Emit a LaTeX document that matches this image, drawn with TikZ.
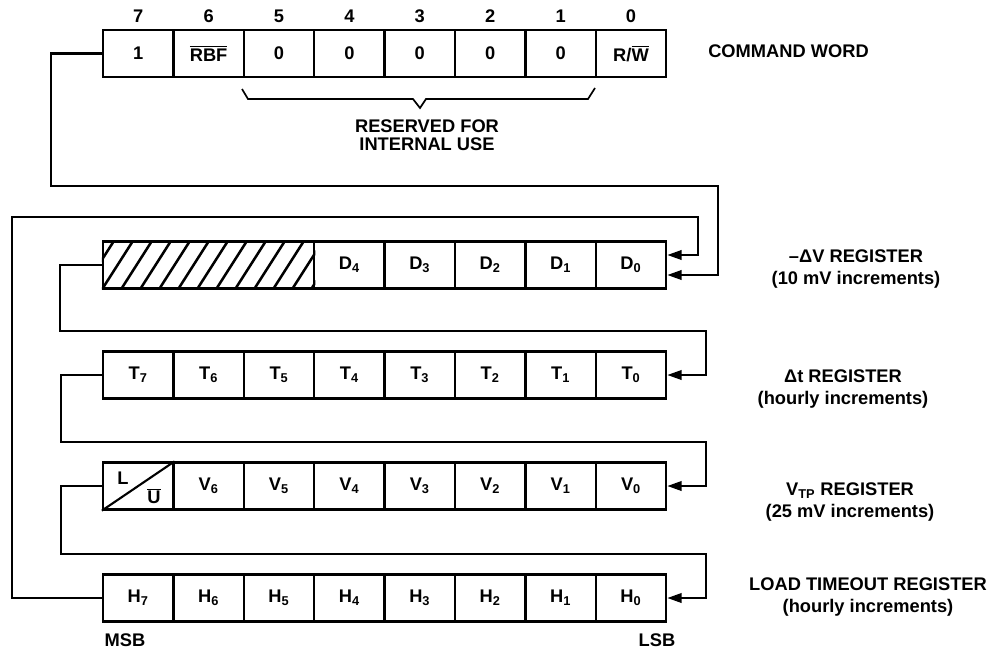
\documentclass[tikz,border=0pt]{standalone}
\usepackage{fontspec}
\setmainfont{Liberation Sans}
\usetikzlibrary{arrows.meta,positioning,calc}
\tikzset{
  >={Triangle[length=3.6mm,width=2.4mm]},
  bitcell/.style={draw,line width=1.6pt,minimum width=1.76cm,minimum height=1.175cm,
    inner sep=0pt,anchor=center},
  flow/.style={line width=1.5pt},
  tag/.style={align=center,inner sep=0pt},
}
\newcommand{\bitbar}[1]{$\overline{\mbox{#1}}$}

\begin{document}
\begin{tikzpicture}[x=0.025cm,y=-0.025cm,font=\fontsize{13}{15}\selectfont\bfseries]
  \useasboundingbox (0,0) rectangle (998,651);
  % command word
  \foreach \b/\t in {7/1,6/{\bitbar{RBF}},5/0,4/0,3/0,2/0,1/0,0/{R/\bitbar{W}}}{
    \node[bitcell] (cw\b) at ({138.2+70.4*(7-\b)},53.5) {\t};
    \node[tag] (bit\b) at ({138.2+70.4*(7-\b)},16) {\b};
  }
  \node[tag,anchor=west] (cwlabel) at (708,51) {COMMAND WORD};
  \draw[flow,line width=1.2pt] (242,89) -- (248,99) -- (413,99) -- (420,108) -- (426,99) -- (588,99) -- (595,88);
  \node[tag,font=\fontsize{13}{12.5}\selectfont\bfseries] (rsv) at (427,135) {RESERVED FOR\\INTERNAL USE};

  % -dV register
  \node[bitcell,minimum width=5.28cm] (dx) at (208.6,265) {};
  \begin{scope}
    \clip (dx.south west) rectangle (dx.north east);
    \foreach \k in {-2,...,12}
      \draw[line width=1.8pt] ($(dx.south west)+(\k*19,0)$) -- ++(30,-47);
  \end{scope}
  \node[bitcell,minimum width=5.28cm] at (dx) {};
  \foreach \b in {4,...,0}
    \node[bitcell] (d\b) at ({138.2+70.4*(7-\b)},265) {D\textsubscript{\b}};
  \node[tag] (dvlabel) at (856,269) {–ΔV REGISTER\\(10 mV increments)};

  % dt register
  \foreach \b in {7,...,0}
    \node[bitcell] (t\b) at ({138.2+70.4*(7-\b)},375) {T\textsubscript{\b}};
  \node[tag] (dtlabel) at (843,389) {Δt REGISTER\\(hourly increments)};

  % Vtp register
  \node[bitcell] (v7) at (138.2,486) {};
  \draw[flow] (v7.south west) -- (v7.north east);
  \node[tag] (v7l) at (123,478) {L};
  \node[tag] (v7u) at (154,496) {\bitbar{U}};
  \foreach \b in {6,...,0}
    \node[bitcell] (v\b) at ({138.2+70.4*(7-\b)},486) {V\textsubscript{\b}};
  \node[tag] (vtplabel) at (850,502) {V\textsubscript{TP} REGISTER\\(25 mV increments)};

  % load timeout register
  \foreach \b in {7,...,0}
    \node[bitcell] (h\b) at ({138.2+70.4*(7-\b)},598) {H\textsubscript{\b}};
  \node[tag] (ltlabel) at (868,597) {LOAD TIMEOUT REGISTER\\(hourly increments)};
  \node[tag] (msb) at (125,640) {MSB};
  \node[tag] (lsb) at (657,640) {LSB};

  % feeds
  \coordinate (dhi) at ($(d0.east)+(0,-10)$);
  \coordinate (dlo) at ($(d0.east)+(0,10)$);
  \draw[flow,->] (cw7.west) -- ++(-51,0) |- (718,186) |- (dlo);
  \draw[flow,->] (h7.west) -- ++(-90,0) |- (698,217) |- (dhi);
  \draw[flow,->] (dx.west) -- ++(-42,0) |- (706,331) |- (t0.east);
  \draw[flow,->] (t7.west) -- ++(-41,0) |- (706,442) |- (v0.east);
  \draw[flow,->] (v7.west) -- ++(-41,0) |- (706,554) |- (h0.east);
\end{tikzpicture}
\end{document}
